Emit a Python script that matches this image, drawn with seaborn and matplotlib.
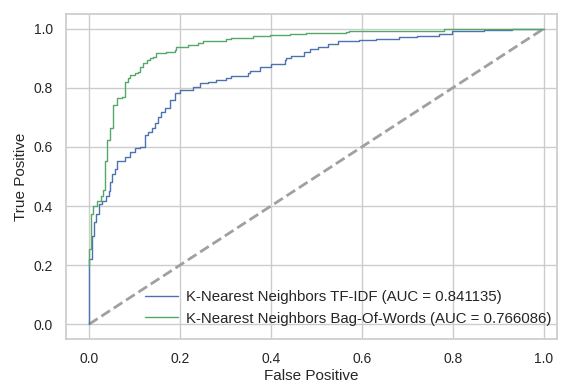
import matplotlib
matplotlib.use("Agg")
import matplotlib.pyplot as plt
import seaborn as sns
import pandas as pd

# ROC curve knots (false positive rate, true positive rate); each knot is the
# top of a vertical rise, drawn as a staircase with steps-post.
tfidf_fpr = [0.000, 0.000, 0.000, 0.006, 0.011, 0.015, 0.022, 0.029, 0.037, 0.044,
             0.046, 0.050, 0.057, 0.061, 0.079, 0.090, 0.101, 0.112, 0.123, 0.129,
             0.138, 0.145, 0.151, 0.159, 0.167, 0.178, 0.189, 0.200, 0.229, 0.243,
             0.262, 0.280, 0.302, 0.313, 0.349, 0.353, 0.375, 0.401, 0.430, 0.434,
             0.445, 0.474, 0.485, 0.503, 0.525, 0.547, 0.594, 0.631, 0.682, 0.721,
             0.770, 0.798, 0.868, 0.930, 1.000]
tfidf_tpr = [0.000, 0.197, 0.220, 0.300, 0.345, 0.374, 0.408, 0.418, 0.435, 0.452,
             0.481, 0.510, 0.527, 0.554, 0.566, 0.583, 0.595, 0.600, 0.639, 0.651,
             0.663, 0.680, 0.702, 0.719, 0.731, 0.759, 0.781, 0.793, 0.804, 0.815,
             0.821, 0.827, 0.832, 0.840, 0.851, 0.858, 0.872, 0.880, 0.895, 0.900,
             0.908, 0.921, 0.931, 0.940, 0.948, 0.957, 0.963, 0.967, 0.971, 0.976,
             0.983, 0.991, 0.997, 1.000, 1.000]

bow_fpr = [0.000, 0.000, 0.005, 0.009, 0.018, 0.026, 0.031, 0.035, 0.039, 0.046,
           0.053, 0.061, 0.072, 0.079, 0.086, 0.090, 0.101, 0.108, 0.112, 0.119,
           0.127, 0.134, 0.141, 0.148, 0.170, 0.189, 0.192, 0.218, 0.240, 0.251,
           0.269, 0.302, 0.313, 0.360, 0.397, 0.441, 0.477, 0.565, 0.572, 0.653,
           0.781, 1.000]
bow_tpr = [0.197, 0.255, 0.374, 0.401, 0.418, 0.435, 0.456, 0.554, 0.622, 0.663,
           0.741, 0.765, 0.769, 0.820, 0.832, 0.844, 0.849, 0.855, 0.872, 0.883,
           0.895, 0.900, 0.906, 0.917, 0.923, 0.929, 0.940, 0.946, 0.951, 0.957,
           0.960, 0.966, 0.970, 0.976, 0.980, 0.982, 0.985, 0.989, 0.993, 0.994,
           1.000, 1.000]

labels = ["K-Nearest Neighbors TF-IDF (AUC = 0.841135)",
          "K-Nearest Neighbors Bag-Of-Words (AUC = 0.766086)"]
colors = ["#4c72b0", "#55a868"]
ticks = [0.0, 0.2, 0.4, 0.6, 0.8, 1.0]

sns.set_theme(style="whitegrid", context="notebook",
              rc={"axes.labelsize": 11, "xtick.labelsize": 10,
                  "ytick.labelsize": 10, "legend.fontsize": 10.8})
plt.rcParams["font.family"] = ["Liberation Sans", "DejaVu Sans"]

W, H = 562, 383
fig = plt.figure(figsize=(W / 100, H / 100), dpi=100)
ax = fig.add_axes([66 / W, (H - 339) / H, (557 - 66) / W, (339 - 14) / H])

tfidf = pd.DataFrame({"fpr": tfidf_fpr, "tpr": tfidf_tpr})
bow = pd.DataFrame({"fpr": bow_fpr, "tpr": bow_tpr})

sns.lineplot(data=tfidf, x="fpr", y="tpr", ax=ax, estimator=None, sort=False,
             color=colors[0], linewidth=1.0, drawstyle="steps-post")
h1 = ax.lines[-1]
sns.lineplot(data=bow, x="fpr", y="tpr", ax=ax, estimator=None, sort=False,
             color=colors[1], linewidth=1.0, drawstyle="steps-post")
h2 = ax.lines[-1]
sns.lineplot(x=[0, 1], y=[0, 1], ax=ax, color="#a0a0a0", linewidth=2,
             linestyle="--")

h1.set_color(colors[0])
h2.set_color(colors[1])
h1.set_zorder(3)
h2.set_zorder(4)

ax.set_xlim(-0.0507, 1.0295)
ax.set_ylim(-0.05, 1.05)
ax.set_xticks(ticks)
ax.set_yticks(ticks)
ax.set_xlabel("False Positive", labelpad=2)
ax.set_ylabel("True Positive")
ax.legend([h1, h2], labels, loc="lower right", frameon=False,
          bbox_to_anchor=(1 + 8 / 491, 0), handlelength=2.2, handletextpad=0.53)

fig.savefig("out.png", dpi=100)
